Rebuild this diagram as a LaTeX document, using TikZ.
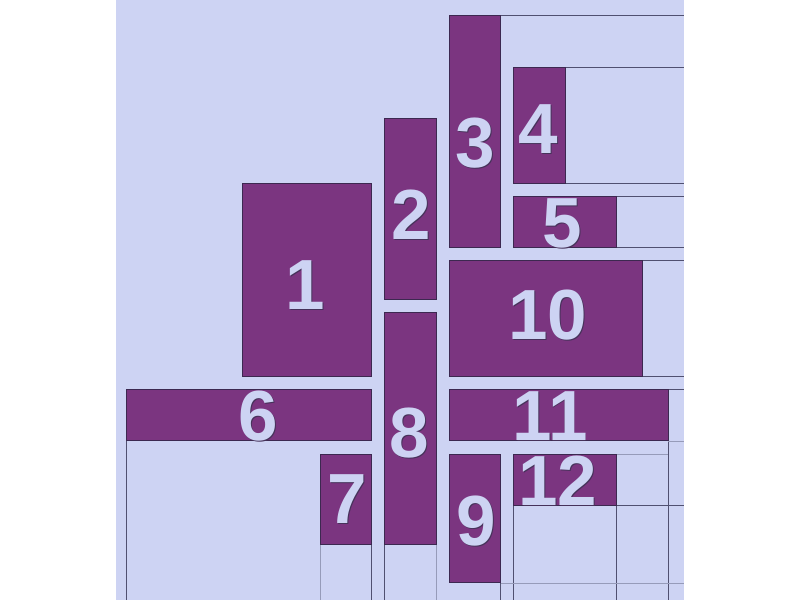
\documentclass[tikz,border=0pt]{standalone}
\usepackage{fontspec}
\setmainfont{Liberation Sans}
\definecolor{bgc}{RGB}{205,211,243}
\definecolor{purp}{RGB}{123,53,128}
\definecolor{edgec}{RGB}{60,40,80}
\definecolor{linec}{RGB}{80,80,112}
\definecolor{lightline}{RGB}{150,155,185}
\definecolor{shadowc}{RGB}{70,50,90}
\tikzset{
  box/.style={fill=purp, draw=edgec, line width=0.7pt, inner sep=0pt, outer sep=0pt},
  num/.style={font=\fontsize{71}{71}\selectfont\bfseries, text=bgc, inner sep=0pt, anchor=base},
  numshadow/.style={font=\fontsize{71}{71}\selectfont\bfseries, text=shadowc, inner sep=0pt, anchor=base},
  guide/.style={draw=linec, line width=1pt},
  faint/.style={draw=lightline, line width=1pt}
}
\newcommand{\rbox}[5]{% name, x1, y1, x2, y2
  \node[box, minimum width={(#4-#2)*1pt}, minimum height={(#5-#3)*1pt}] (#1) at ({(#2+#4)/2},{(#3+#5)/2}) {};}
\newcommand{\lbl}[4]{% name, x, ycenter, text
  \node[numshadow] at ({#2+0.9},{#3+25.5+0.9}) {#4};
  \node[num] (#1) at (#2,{#3+25.5}) {#4};}
\begin{document}
\begin{tikzpicture}[x=1pt,y=-1pt]
\useasboundingbox (0,0) rectangle (800,600);
\fill[white] (0,0) rectangle (800,600);
\fill[bgc] (116,0) rectangle (684,600);
% guide lines
\draw[guide] (500,15) -- (684,15);
\draw[guide] (565,67) -- (684,67);
\draw[guide] (565,183) -- (684,183);
\draw[guide] (616,196) -- (684,196);
\draw[guide] (616,247) -- (684,247);
\draw[guide] (642,260) -- (684,260);
\draw[guide] (642,376) -- (684,376);
\draw[guide] (668,389) -- (684,389);
\draw[guide] (668,389) -- (668,600);
\draw[faint] (668,441) -- (684,441);
\draw[faint] (616,454) -- (668,454);
\draw[guide] (616,454) -- (616,600);
\draw[guide] (513,505) -- (684,505);
\draw[guide] (513,505) -- (513,600);
\draw[faint] (500,583) -- (684,583);
\draw[guide] (500,583) -- (500,600);
\draw[faint] (320,544) -- (320,600);
\draw[guide] (371,544) -- (371,600);
\draw[guide] (384,544) -- (384,600);
\draw[faint] (436,544) -- (436,600);
\draw[guide] (126,440) -- (126,600);
% rectangles
\rbox{r1}{242}{183}{371}{376}
\rbox{r2}{384}{118}{436}{299}
\rbox{r3}{449}{15}{500}{247}
\rbox{r4}{513}{67}{565}{183}
\rbox{r5}{513}{196}{616}{247}
\rbox{r10}{449}{260}{642}{376}
\rbox{r6}{126}{389}{371}{440}
\rbox{r7}{320}{454}{371}{544}
\rbox{r8}{384}{312}{436}{544}
\rbox{r11}{449}{389}{668}{440}
\rbox{r9}{449}{454}{500}{582}
\rbox{r12}{513}{454}{616}{505}
% labels
\lbl{l1}{305}{284}{1}
\lbl{l2}{411}{214}{2}
\lbl{l3}{475}{142}{3}
\lbl{l4}{538}{128}{4}
\lbl{l5}{562}{222}{5}
\lbl{l10}{548}{314}{10}
\lbl{l6}{258}{415}{6}
\lbl{l7}{347}{498}{7}
\lbl{l8}{409}{432}{8}
\lbl{l11}{550}{415}{11}
\lbl{l9}{476}{520}{9}
\lbl{l12}{558}{480}{12}
\end{tikzpicture}
\end{document}
